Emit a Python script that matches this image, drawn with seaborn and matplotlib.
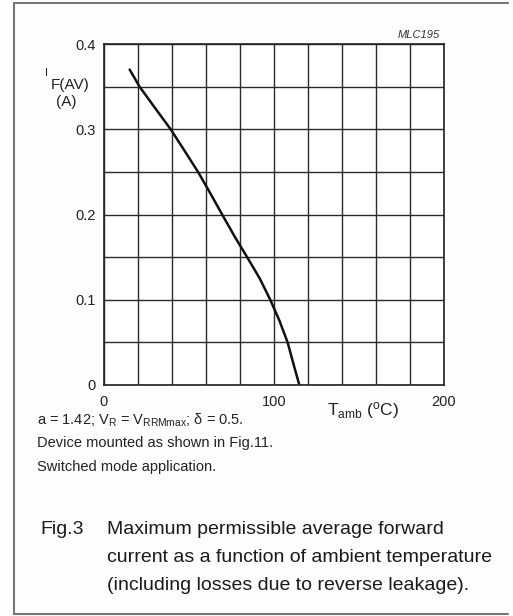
import numpy as np
import pandas as pd
import matplotlib
matplotlib.use("Agg")
import matplotlib.pyplot as plt
from matplotlib.ticker import MultipleLocator
import seaborn as sns

# derating curve
t_amb = [15.1, 20.9, 30.0, 39.2, 47.3, 55.3, 62.5, 69.5, 76.9, 84.2, 91.6, 97.8, 103.3, 108.0, 111.9, 114.9]
i_fav = [0.370, 0.35, 0.325, 0.30, 0.275, 0.25, 0.225, 0.20, 0.174, 0.15, 0.125, 0.10, 0.075, 0.05, 0.0215, 0.0]

x_labels = ["0", "100", "200"]
y_labels = ["0", "0.1", "0.2", "0.3", "0.4"]

notes = ["a = 1.42; V$_\\mathregular{R}$ = V$_\\mathregular{RRMmax}$; δ = 0.5.",
         "Device mounted as shown in Fig.11.",
         "Switched mode application."]
caption = ["Maximum permissible average forward",
           "current as a function of ambient temperature",
           "(including losses due to reverse leakage)."]

sns.set_theme(style="white")
plt.rcParams['font.family'] = ['Liberation Sans', 'DejaVu Sans']
plt.rcParams['mathtext.default'] = 'regular'

df = pd.DataFrame({"Tamb": t_amb, "IF": i_fav})

fig = plt.figure(figsize=(5.13, 6.16), dpi=100, facecolor="#fdfdfd")
ax = fig.add_axes([104 / 513, 1 - 385 / 616, 340 / 513, 341 / 616])
ax.set_facecolor("white")

sns.lineplot(data=df, x="Tamb", y="IF", sort=False, color="#111111", linewidth=1.8, ax=ax)

ax.set_xlim(0, 200)
ax.set_ylim(0, 0.4)
ax.xaxis.set_minor_locator(MultipleLocator(20))
ax.yaxis.set_minor_locator(MultipleLocator(0.05))
ax.set_xticks([0, 100, 200])
ax.set_xticklabels(x_labels)
ax.set_yticks([0, 0.1, 0.2, 0.3, 0.4])
ax.set_yticklabels(y_labels)
ax.grid(True, which="both", color="#2a2a2a", linewidth=1.0)
ax.tick_params(which="both", length=0, labelsize=10.5, colors="#222222")
ax.tick_params(axis="x", pad=7)
ax.tick_params(axis="y", pad=6)
for s in ax.spines.values():
    s.set_color("#222222")
    s.set_linewidth(1.2)
ax.set_xlabel("")
ax.set_ylabel("")

# axis labels
fig.text(46 / 513, 1 - 73 / 616, "I", fontsize=8, ha="center", va="center", color="#222222")
fig.text(70 / 513, 1 - 85 / 616, "F(AV)", fontsize=11, ha="center", va="center", color="#222222")
fig.text(66 / 513, 1 - 102 / 616, "(A)", fontsize=11, ha="center", va="center", color="#222222")
fig.text(363 / 513, 1 - 410 / 616, "T$_{amb}$ ($^{o}$C)", fontsize=12.5, ha="center", va="center", color="#222222")
fig.text(419 / 513, 1 - 35 / 616, "MLC195", fontsize=8, style="italic", ha="center", va="center", color="#333333")

# notes under the graph
for k, line in enumerate(notes):
    fig.text(37 / 513, 1 - (420 + 23.5 * k) / 616, line, fontsize=10.5, ha="left", va="center", color="#222222")

# figure caption
fig.text(40 / 513, 1 - 530 / 616, "Fig.3", fontsize=14, ha="left", va="center", color="#1a1a1a")
for k, line in enumerate(caption):
    fig.text(107 / 513, 1 - (530 + 27.5 * k) / 616, line, fontsize=14, ha="left", va="center", color="#1a1a1a")

# scanned frame: left, top and bottom edges
frame = dict(color="#777777", linewidth=1.5)
fig.add_artist(plt.Line2D([14 / 513, 14 / 513], [1 - 3 / 616, 1 - 614 / 616], transform=fig.transFigure, **frame))
fig.add_artist(plt.Line2D([14 / 513, 0.99], [1 - 3 / 616, 1 - 3 / 616], transform=fig.transFigure, **frame))
fig.add_artist(plt.Line2D([14 / 513, 0.99], [1 - 614 / 616, 1 - 614 / 616], transform=fig.transFigure, **frame))

fig.savefig("out.png", dpi=100, facecolor=fig.get_facecolor())
